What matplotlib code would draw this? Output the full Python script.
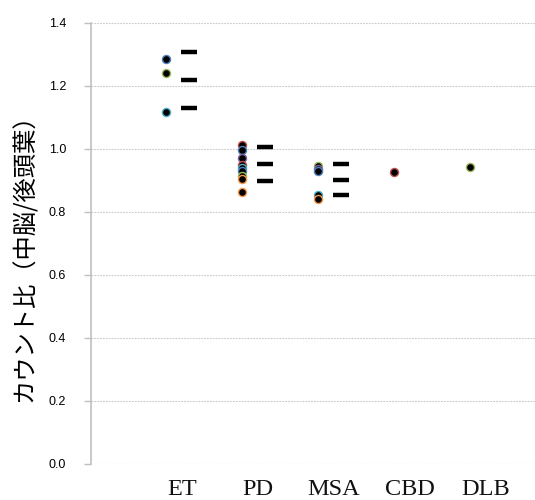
import matplotlib
matplotlib.use("Agg")
import matplotlib.pyplot as plt
import numpy as np

categories = ["ET", "PD", "MSA", "CBD", "DLB"]

et_values = [1.286, 1.242, 1.117]
et_colors = ["#4F81BD", "#9BBB59", "#4BACC6"]
pd_values = [1.012, 0.995, 0.972, 0.950, 0.938, 0.928, 0.915, 0.903, 0.862]
pd_colors = ["#C0504D", "#4F81BD", "#8064A2", "#C0504D", "#4BACC6", "#4F81BD", "#9BBB59", "#F79646", "#F79646"]
msa_values = [0.946, 0.936, 0.928, 0.852, 0.840]
msa_colors = ["#9BBB59", "#8064A2", "#4F81BD", "#4BACC6", "#F79646"]
cbd_values = [0.927]
cbd_colors = ["#C0504D"]
dlb_values = [0.942]
dlb_colors = ["#9BBB59"]

group_values = [et_values, pd_values, msa_values, cbd_values, dlb_values]
group_colors = [et_colors, pd_colors, msa_colors, cbd_colors, dlb_colors]

# mean ± SD markers (ET, PD, MSA)
stat_groups = [0, 1, 2]
stat_means = [1.217, 0.953, 0.902]
stat_sds = [0.089, 0.054, 0.049]

yticks = [0.0, 0.2, 0.4, 0.6, 0.8, 1.0, 1.2, 1.4]
ylabel = "カウント比（中脳/後頭葉）"

fig = plt.figure(figsize=(5.35, 5.00), dpi=100)
ax = fig.add_axes([91 / 535, 1 - 464 / 500, 1 - 91 / 535, (464 - 22.7) / 500])

for i, (vals, cols) in enumerate(zip(group_values, group_colors)):
    for v, c in zip(vals, cols):
        ax.plot([i], [v], marker="o", ms=5.8, mfc="black", mec=c, mew=1.0,
                linestyle="none", zorder=3)

dash_off = 0.30
for g, m, s in zip(stat_groups, stat_means, stat_sds):
    ax.plot([g + dash_off] * 3, [m - s, m, m + s], marker="_", ms=11.5, mew=3.2,
            color="black", linestyle="none", zorder=3)

ax.set_xlim(-0.987, 4.855)
ax.set_ylim(0, 1.4)
ax.set_yticks(yticks)
ax.set_yticklabels([f"{t:.1f}" for t in yticks], fontsize=9, family="Liberation Sans")
ax.set_xticks(np.arange(len(categories)) + 0.21)
ax.set_xticklabels(categories, fontsize=17.5, family="Liberation Serif", color="#111111")
ax.tick_params(axis="x", length=0, pad=11)
ax.tick_params(axis="y", length=5, color="#c0c0c0", width=1, pad=13)

ax.yaxis.grid(True, color="#cccccc", linestyle=(0, (1.6, 1)), linewidth=0.8)
ax.set_axisbelow(True)
for sp in ["top", "right", "bottom"]:
    ax.spines[sp].set_visible(False)
ax.spines["left"].set_color("#c0c0c0")
ax.spines["left"].set_linewidth(1.2)

ax.set_ylabel(ylabel, fontsize=17.5, family=["Noto Sans CJK JP", "DejaVu Sans"])
ax.yaxis.set_label_coords(-0.12, 0.48)

fig.savefig("out.png", dpi=100)
